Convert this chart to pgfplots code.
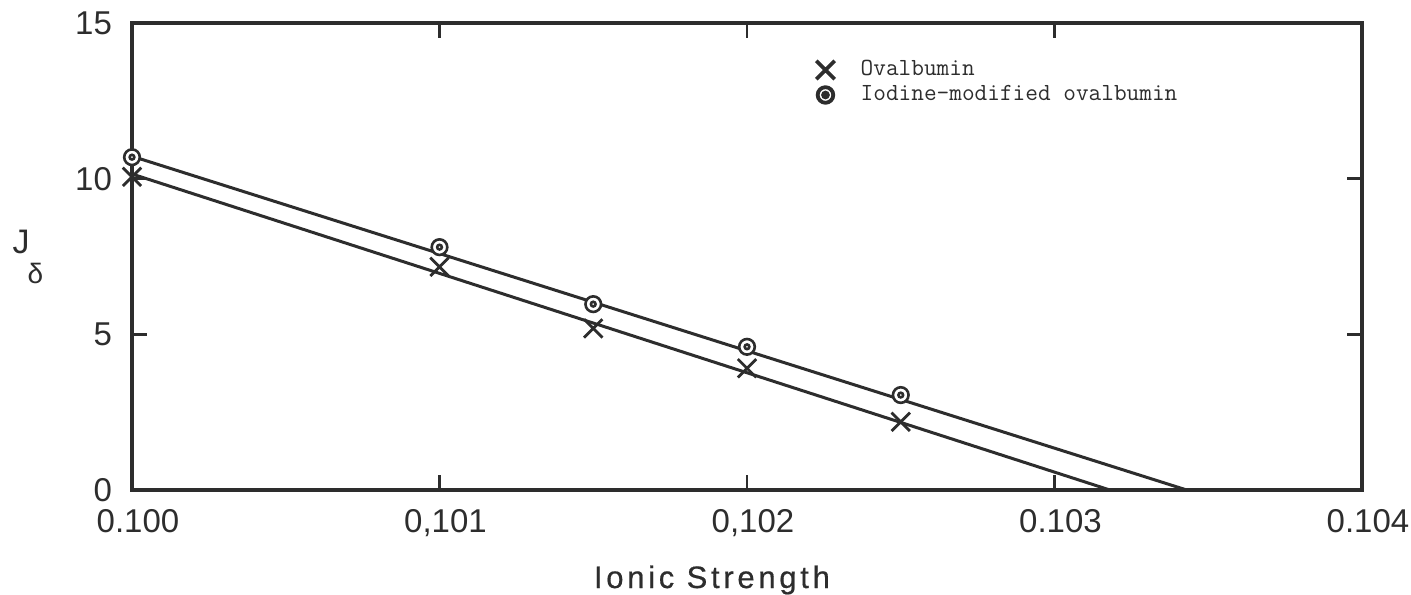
\documentclass[border=0pt]{standalone}
\usepackage{pgfplots}
\usepackage{pgfplotstable}
\pgfplotsset{compat=1.18}
\usepackage{fontspec}
\setmainfont{Liberation Sans}
\definecolor{ink}{RGB}{45,45,45}

% circle with a centre dot
\pgfdeclareplotmark{odot}{%
  \pgfpathcircle{\pgfpointorigin}{\pgfplotmarksize}%
  \pgfusepathqfillstroke
  \pgfpathcircle{\pgfpointorigin}{0.3\pgfplotmarksize}%
  \pgfusepathqstroke
}

% ionic strength vs J_delta
\pgfplotstableread{
I      J
0.1000 10.06
0.1010 7.17
0.1015 5.19
0.1020 3.91
0.1025 2.19
}\ovalbumin
\pgfplotstableread{
I      J
0.1000 10.69
0.1010 7.80
0.1015 5.97
0.1020 4.60
0.1025 3.05
}\iodinated

\begin{document}
\begin{tikzpicture}
\begin{axis}[
  scale only axis,
  width=615pt, height=233.5pt,
  xmin=0.100, xmax=0.104, ymin=0, ymax=15,
  scaled x ticks=false,
  /pgf/number format/assume math mode=true,
  xtick={0.100,0.101,0.102,0.103,0.104},
  xticklabels={0.100,{0,101},{0,102},0.103,0.104},
  ytick={0,5,10,15},
  tick align=inside,
  major tick length=7.5pt,
  axis line style={line width=1.9pt, ink},
  every tick/.style={ink, line width=1.3pt},
  tick label style={font=\fontsize{16.5}{16.5}\selectfont, text=ink},
  x tick label style={yshift=-6pt, xshift=3pt},
  y tick label style={xshift=-6.5pt},
  xlabel={\addfontfeature{LetterSpace=12,FakeBold=0.6}Ionic Strength},
  xlabel style={at={(axis description cs:0.4715,0)}, anchor=base, yshift=-49pt,
    font=\fontsize{15.5}{15.5}\selectfont, text=ink},
  ylabel={\fontsize{17}{17}\selectfont J\kern-1pt\raisebox{-15pt}{\fontsize{14}{14}\selectfont δ}},
  ylabel style={rotate=-90, at={(axis description cs:0,0.5)}, anchor=center,
    xshift=-52pt, text=ink},
  legend style={draw=none, fill=none, at={(0.556,0.927)}, anchor=north west,
    font=\ttfamily\addfontfeature{FakeBold=1.4}\fontsize{12.3}{12.5}\selectfont, text=ink,
    inner sep=0pt, row sep=0pt,
    nodes={inner sep=1pt, text height=8pt, text depth=2.5pt},
    /tikz/every odd column/.append style={column sep=12pt}},
  legend cell align=left,
  legend image post style={line width=1.9pt},
]
% fitted lines
\addplot[ink, line width=1.5pt, forget plot] coordinates {(0.1000,10.15) (0.10318,0)};
\addplot[ink, line width=1.5pt, forget plot] coordinates {(0.1000,10.72) (0.10343,0)};
% measured points
\addplot[only marks, mark=x, mark size=6.5pt, ink, line width=1.4pt]
  table[x=I, y=J]{\ovalbumin};
\addlegendentry{Ovalbumin}
\addplot[only marks, mark=odot, mark size=3.9pt, ink, line width=1.3pt,
  mark options={fill=white}]
  table[x=I, y=J]{\iodinated};
\addlegendentry{Iodine-modified ovalbumin}
\end{axis}
\pgfresetboundingbox
\path[use as bounding box] ([shift={(-66pt,-52pt)}]current axis.south west)
  rectangle ([shift={(24.5pt,11.5pt)}]current axis.north east);
\end{tikzpicture}
\end{document}
